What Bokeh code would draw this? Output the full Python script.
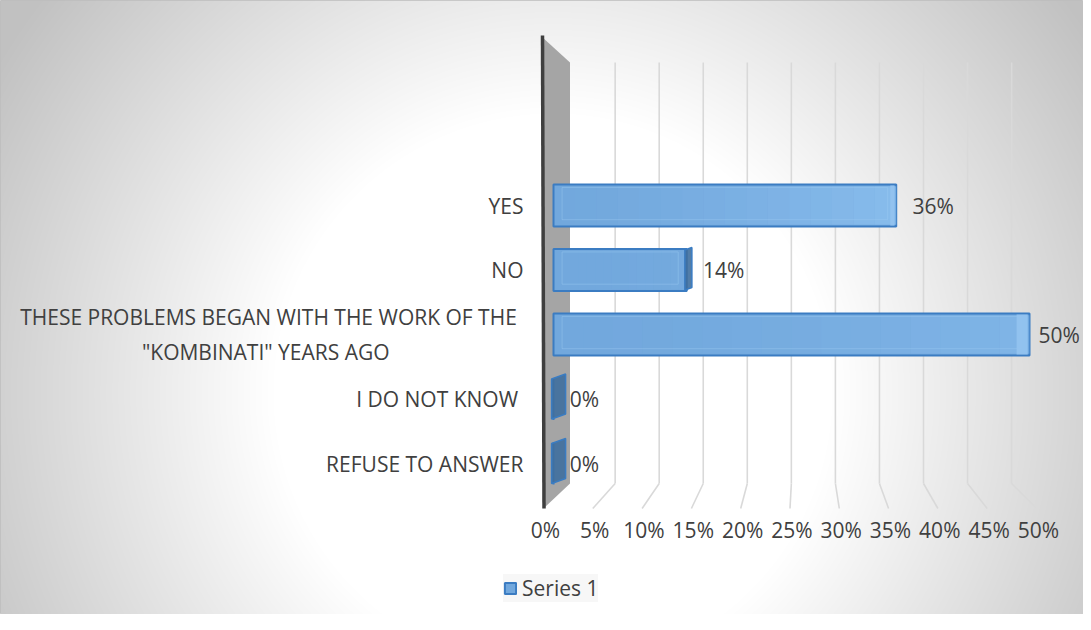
import numpy as np
from bokeh.plotting import figure
from bokeh.models import Range1d, ColumnDataSource, Legend, LegendItem
from bokeh.core.properties import value
from bokeh.embed import file_html
from bokeh.resources import INLINE

# ---------------- data ----------------
categories = [
    "REFUSE TO ANSWER",
    "I DO NOT KNOW ",
    "THESE PROBLEMS BEGAN WITH THE WORK OF THE\n\"KOMBINATI\"  YEARS AGO",
    "NO",
    "YES",
]
values = [0, 0, 50, 14, 36]
value_labels = ["0%", "0%", "50%", "14%", "36%"]
tick_values = [0, 5, 10, 15, 20, 25, 30, 35, 40, 45, 50]
tick_labels = ["0%", "5%", "10%", "15%", "20%", "25%", "30%", "35%", "40%", "45%", "50%"]
series_name = "Series 1"

# ---------------- layout (reference pixel geometry) ----------------
W, H = 1083, 614
OFF = 8                 # page margin
X0_REF = 561            # reference px of 0 %
PX = 9.52               # px per percent (bar plane)
Y0_REF = 471            # reference px of first category centre
PY = 64.5               # px per category


def xr(px):  # reference px -> data x
    return (px - X0_REF) / PX


def yr(py):  # reference px -> data y
    return (Y0_REF - py) / PY


FONT = value("Open Sans")
TXT = "#404040"
FS = "21px"

p = figure(width=W, height=H,
           x_range=Range1d(xr(OFF), xr(OFF + W)),
           y_range=Range1d(yr(OFF + H), yr(OFF)),
           x_axis_location=None, y_axis_location=None,
           output_backend="svg", toolbar_location=None, min_border=0)
p.grid.visible = False
p.outline_line_color = "#bdbdbd"
p.background_fill_color = "white"

# radial background gradient (white centre -> grey edges)
yy, xx = np.mgrid[0:H, 0:W]
d = np.hypot(xx + OFF - 560, yy + OFF - 400)
t = np.clip((d - 280) / (650 - 280), 0, 1)
g = (255 - t * 62).astype(np.uint8)
rgba = np.zeros((H, W, 4), dtype=np.uint8)
rgba[..., 0] = g
rgba[..., 1] = g
rgba[..., 2] = g
rgba[..., 3] = 255
img = np.ascontiguousarray(rgba[::-1]).view(dtype=np.uint32).reshape((H, W))
p.image_rgba(image=[img], x=xr(OFF), y=yr(OFF + H),
             dw=xr(OFF + W) - xr(OFF), dh=yr(OFF) - yr(OFF + H))

# gridlines in perspective: back wall verticals + floor diagonals
gt = [v for v in tick_values if v > 0]
back_x = [xr(578.6 + 8.81 * v) for v in gt]
front_x = [xr(551 + 9.86 * v) for v in gt]
p.segment(x0=back_x, y0=[yr(70)] * len(gt), x1=back_x, y1=[yr(491)] * len(gt),
          line_color="#d9d9d9", line_width=1.6)
p.segment(x0=back_x, y0=[yr(491)] * len(gt), x1=front_x, y1=[yr(516)] * len(gt),
          line_color="#d9d9d9", line_width=1.6)

# side wall
p.patch([xr(549), xr(577.5), xr(577.5), xr(551)],
        [yr(44), yr(70), yr(491), yr(516)],
        fill_color="#a5a5a5", line_color=None)
p.segment(x0=[xr(550)], y0=[yr(43)], x1=[xr(551.5)], y1=[yr(516)],
          line_color="#3f3f3f", line_width=3.5)

# bars
idx = list(range(len(categories)))
src = ColumnDataSource(dict(y=idx, right=values, lab=value_labels,
                            lx=[min(v + 1.7, 50.95) for v in values]))
bars = p.hbar(y="y", left=0, right="right", height=0.65, source=src,
              fill_color="#72a8dd", line_color="#3b7cc2", line_width=2)

# soft lighting on the bar faces: lighter towards the upper right
NS = 16
gl, gr, gy, ga = [], [], [], []
for i, v in zip(idx, values):
    if v <= 0:
        continue
    wy = 1.0 if i == len(idx) - 1 else 0.4
    for k in range(NS):
        a0 = v * k / NS
        a1 = v * (k + 1) / NS
        gl.append(a0)
        gr.append(a1)
        gy.append(i)
        ga.append(0.75 * wy * ((a0 + a1) / 2 / 40) ** 1.4)
p.hbar(y=gy, left=gl, right=gr, height=0.6, fill_color="#93c6f4", fill_alpha=ga,
       line_color=None)

# inner bevel highlight
p.hbar(y=[i + 0.03 for i in idx], left=[0.9 if v > 0 else 0 for v in values],
       right=[max(v - 0.9, 0) for v in values], height=0.5,
       fill_color=None, line_color="#9ccaf2", line_alpha=[0.45 if v > 0 else 0 for v in values],
       line_width=1)

# bar end faces (3-D cap)
cap_xs, cap_ys, cap_fill, cap_line = [], [], [], []
for i, v in zip(idx, values):
    w = 14 - 0.5 * v
    xa = v - 0.2
    xb = xa + w / PX
    hh = 0.31
    s = (5 * w / 14) / PY if w > 0 else 0
    cap_xs.append([xa, xb, xb, xa])
    cap_ys.append([i + hh, i + hh + s, i - hh + s, i - hh])
    cap_fill.append("#3f6f9f" if w > 0 else "#93c3ef")
    cap_line.append("#3a7cc2" if w > 0 else None)
p.patches(cap_xs, cap_ys, fill_color=cap_fill, line_color=cap_line, line_width=1.5,
          fill_alpha=0.9)

# value labels
p.text(x="lx", y="y", text="lab", source=src, text_font=FONT, text_font_size=FS,
       text_color=TXT, text_align="left", text_baseline="middle")

# category labels
single = [(i, c) for i, c in zip(idx, categories) if "\n" not in c]
multi = [(i, c) for i, c in zip(idx, categories) if "\n" in c]
p.text(x=[xr(531)] * len(single), y=[i for i, _ in single], text=[c for _, c in single],
       text_font=FONT, text_font_size=FS, text_color=TXT,
       text_align="right", text_baseline="middle")
p.text(x=[xr(276)] * len(multi), y=[i for i, _ in multi], text=[c for _, c in multi],
       text_font=FONT, text_font_size=FS, text_color=TXT,
       text_align="center", text_baseline="middle", text_line_height=1.25)

# x tick labels (front edge of floor)
p.text(x=[xr(551 + 9.86 * v) + 0.2 for v in tick_values], y=[yr(537)] * len(tick_values),
       text=tick_labels, text_font=FONT, text_font_size=FS, text_color=TXT,
       text_align="center", text_baseline="middle")

legend = Legend(items=[LegendItem(label=series_name, renderers=[bars])],
                location=(503, 12), orientation="horizontal",
                label_text_font="Open Sans", label_text_font_size=FS,
                label_text_color=TXT, glyph_width=14, glyph_height=14,
                label_standoff=5, padding=10, margin=0,
                background_fill_color="#f3f3f3", background_fill_alpha=0.7,
                border_line_color=None)
p.add_layout(legend)

open("out.html", "w").write(file_html(p, INLINE))
